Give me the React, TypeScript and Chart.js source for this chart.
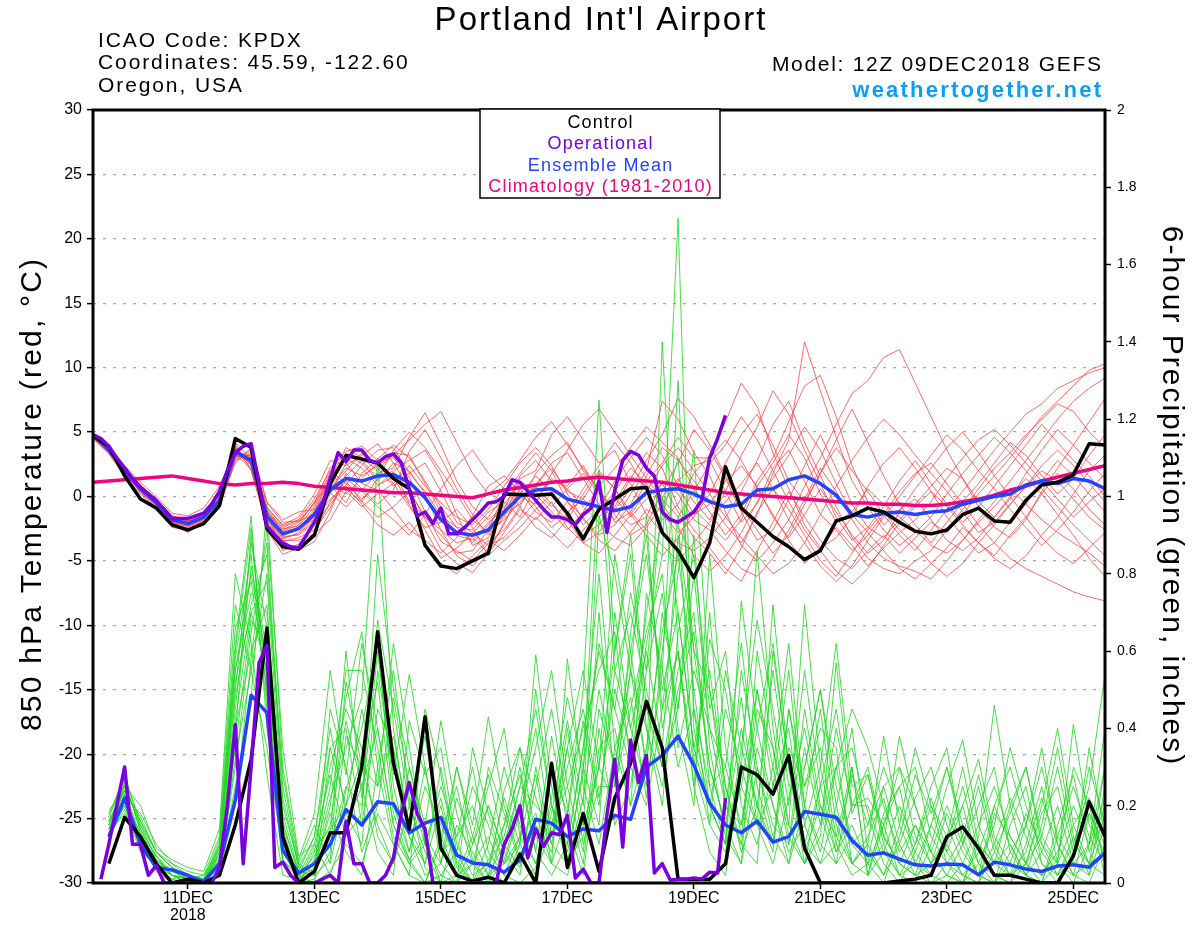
import React, { useEffect, useRef } from 'react';
import { Chart, registerables } from 'chart.js';

Chart.register(...registerables);

// ---- time axis (hours after 12Z 09DEC2018) ----
const HOURS_6H = Array.from({ length: 65 }, (_, i) => i * 6);
const HOURS_3H = Array.from({ length: 81 }, (_, j) => j * 3);
const PRECIP_HOURS = HOURS_6H.slice(1);
const DATE_TICK_HOURS = [36, 84, 132, 180, 228, 276, 324, 372];
const DATE_TICK_LABELS: (string | string[])[] = [['11DEC', '2018'], '13DEC', '15DEC', '17DEC', '19DEC', '21DEC', '23DEC', '25DEC'];

// ---- 850 hPa temperature (°C), 6-hourly ----
const controlTemp = [4.7, 3.9, 1.6, -0.2, -0.9, -2.2, -2.6, -2.1, -0.7, 4.5, 3.8, -2.5, -3.9, -4.1, -3.0, 1.0, 3.2, 2.9, 2.6, 1.4, 0.6, -3.8, -5.4, -5.6, -5.0, -4.4, 0.2, 0.15, 0.1, 0.2, -1.3, -3.3, -1.0, -0.2, 0.6, 0.7, -2.8, -4.2, -6.3, -3.6, 2.3, -0.9, -2.0, -3.1, -3.9, -4.9, -4.2, -1.9, -1.5, -0.9, -1.2, -2.0, -2.7, -2.9, -2.6, -1.4, -0.9, -1.9, -2.0, -0.3, 0.9, 1.1, 1.7, 4.1, 4.0];
const meanTemp = [4.8, 3.6, 2.0, 0.6, -0.5, -1.8, -2.1, -1.6, -0.3, 3.5, 2.8, -1.5, -2.9, -2.5, -1.4, 0.5, 1.4, 1.2, 1.6, 1.7, 1.1, -0.1, -1.8, -2.8, -3.0, -2.6, -1.2, 0.0, 0.5, 0.6, -0.2, -0.5, -0.8, -1.1, -0.8, 0.3, 0.5, 0.6, 0.2, -0.4, -0.8, -0.6, 0.5, 0.6, 1.3, 1.6, 1.0, 0.1, -1.4, -1.6, -1.3, -1.2, -1.4, -1.2, -1.1, -0.6, -0.3, 0.0, 0.2, 0.9, 1.2, 1.0, 1.4, 1.2, 0.6];
const climTemp = [1.1, 1.2, 1.3, 1.4, 1.5, 1.6, 1.4, 1.2, 1.0, 0.9, 1.0, 1.0, 1.1, 1.0, 0.8, 0.7, 0.6, 0.5, 0.4, 0.3, 0.3, 0.2, 0.1, 0.0, -0.1, 0.2, 0.5, 0.7, 0.9, 1.1, 1.2, 1.4, 1.5, 1.4, 1.3, 1.2, 1.1, 0.9, 0.7, 0.5, 0.3, 0.2, 0.1, 0.0, -0.1, -0.2, -0.3, -0.4, -0.5, -0.5, -0.6, -0.6, -0.7, -0.7, -0.6, -0.4, -0.2, 0.1, 0.5, 0.8, 1.2, 1.5, 1.8, 2.1, 2.4];
// operational run, 3-hourly to 240 h
const opTemp = [4.8, 4.5, 3.9, 3.0, 2.2, 1.4, 0.7, 0.2, -0.3, -1.0, -1.7, -1.7, -1.7, -1.5, -1.3, -0.6, 0.4, 2.0, 3.4, 3.9, 4.1, 1.0, -2.3, -3.0, -3.6, -3.9, -4.0, -3.0, -2.0, -0.7, 1.4, 3.4, 2.7, 3.6, 3.6, 2.8, 2.6, 3.1, 3.3, 2.6, 0.6, -1.5, -1.2, -2.1, -0.9, -2.9, -2.9, -2.4, -1.8, -1.2, -0.5, -0.4, 0.0, 1.3, 1.1, 0.4, -0.3, -1.0, -1.6, -1.6, -1.8, -2.2, -1.4, -0.9, 1.2, -2.8, 0.5, 2.8, 3.5, 3.2, 2.2, 1.6, -1.2, -1.8, -2.0, -1.6, -1.2, -0.3, 3.0, 4.5, 6.3];

const tempMembers = [
  [4.6, 3.4, 1.8, 0.3, -0.8, -2.2, -2.5, -1.9, -0.6, 3.2, 3.0, -1.2, -2.6, -2.0, -0.5, 2.2, 3.5, 3.9, 2.8, 3.0, 1.5, -1.2, -3.5, -4.2, -5.0, -3.6, -2.6, -0.8, 1.8, 3.2, 4.2, 2.0, 0.6, -1.4, -3.0, -2.2, 0.4, 2.6, 5.2, 3.6, 1.4, -1.2, -3.4, -2.6, -0.2, 2.4, 4.8, 2.2, -0.6, -2.4, -3.2, -1.8, -0.6, 0.8, 2.2, 1.4, -0.4, -1.6, -0.2, 1.8, 3.6, 5.2, 4.0, 2.6, 1.4],
  [4.9, 3.8, 2.3, 0.9, -0.2, -1.5, -1.8, -1.2, 0.2, 3.9, 2.4, -2.0, -3.4, -3.4, -2.9, -1.8, 0.4, -0.8, 0.2, 1.0, 2.4, 0.8, -0.5, -1.6, -2.2, -1.0, 0.8, 2.6, 3.8, 2.4, 0.2, -1.8, -3.0, -2.2, -0.6, 1.6, 3.8, 2.8, 1.2, -0.4, -2.2, -3.6, -1.4, 1.8, 4.4, 12.0, 8.2, 4.6, 1.2, -0.8, -2.6, -3.8, -2.8, -1.6, 0.2, 1.8, 3.2, 4.6, 3.4, 2.0, 0.6, -0.8, -2.2, -3.4, -4.6],
  [4.7, 3.5, 1.9, 0.5, -0.6, -2.0, -2.8, -2.0, -0.8, 2.8, 3.3, -0.9, -2.2, -1.6, 0.2, 2.8, 2.4, 3.2, 4.1, 2.6, 0.6, -1.8, -4.1, -5.2, -5.9, -4.4, -2.8, -1.0, -1.8, -0.4, -2.4, -3.6, -2.8, -0.8, 1.4, 3.4, 2.2, -0.8, -2.6, -4.0, -5.6, -6.6, -4.2, -2.0, 0.4, -1.6, -3.4, -4.8, -5.6, -4.2, -3.0, -4.4, -3.2, -2.0, -2.8, -1.4, 0.2, 1.6, 3.0, 4.6, 6.2, 7.4, 8.6, 9.8, 10.3],
  [4.8, 3.7, 2.1, 0.8, -0.3, -1.6, -1.9, -1.3, 0.4, 4.1, 2.0, -2.3, -3.8, -4.2, -3.5, -1.2, 1.8, 0.6, -0.6, 0.5, 3.5, 5.2, 3.0, 0.6, -1.4, -3.0, -1.6, 1.4, 2.0, 4.8, 6.2, 4.4, 2.6, 3.6, 1.0, -1.4, -2.8, -3.6, -4.2, -3.2, -1.6, 0.4, 2.8, 5.6, 7.4, 4.2, 1.6, -0.8, -3.2, -4.8, -5.6, -6.0, -5.0, -4.2, -2.6, -1.0, 0.6, 2.2, 3.4, 4.8, 6.0, 7.2, 6.6, 5.0, 3.8],
  [4.5, 3.3, 1.6, 0.2, -1.0, -2.4, -2.6, -2.2, -0.9, 3.0, 3.6, -0.5, -2.0, -1.9, -1.4, 0.9, -0.5, 1.8, 2.9, 4.0, 3.0, 1.2, -0.8, -2.4, -3.6, -2.2, -0.6, 1.0, 0.2, -1.2, -2.6, -1.2, 0.8, 2.2, 3.8, 5.4, 4.2, 3.0, 0.6, -1.2, -3.0, -1.4, 1.2, 3.0, 5.8, 8.6, 9.4, 6.2, 2.4, -0.4, -2.2, -1.0, -0.2, -1.8, -3.4, -4.2, -3.2, -1.6, 0.0, 1.4, 0.2, -1.4, -3.0, -4.8, -6.2],
  [4.9, 3.9, 2.4, 1.1, 0.0, -1.3, -1.5, -0.9, 0.8, 3.6, 2.2, -1.8, -3.1, -3.0, -2.0, 0.2, 2.6, 1.0, 0.5, -1.0, -2.6, -3.4, -4.4, -3.2, -1.5, 0.8, 1.6, 0.4, -1.2, -2.0, -0.4, -1.6, -3.4, -4.2, -2.8, -1.0, -1.8, -0.6, 1.8, 3.2, 5.8, 8.8, 7.0, 3.4, 0.6, -2.2, -4.0, -3.2, -1.6, 0.8, 2.6, 3.8, 2.2, 0.4, -1.6, -3.0, -4.4, -3.6, -2.0, -0.6, 1.2, 2.8, 1.6, 0.2, -1.2],
  [4.6, 3.5, 1.9, 0.4, -0.7, -2.1, -2.3, -1.8, -0.2, 3.4, 3.0, -1.4, -4.2, -3.7, -2.2, -0.6, 0.9, 2.4, 3.6, 3.8, 1.8, 0.4, -1.5, -2.4, -2.6, -1.2, -0.4, -1.6, 0.8, 2.6, 3.4, 1.4, -0.6, -1.8, 0.2, 2.0, 7.4, 6.0, 3.4, 1.6, -1.2, -3.8, -5.0, -3.6, -1.8, 0.8, 3.0, 5.6, 8.0, 9.0, 10.8, 11.4, 8.8, 6.2, 3.6, 1.4, -0.8, -2.4, -3.2, -1.8, 0.4, 2.2, 4.0, 5.8, 7.6],
  [4.7, 3.6, 2.2, 0.7, -0.4, -1.9, -2.0, -1.4, 0.0, 3.8, 2.6, -1.0, -2.5, -2.3, -0.8, 1.6, 3.0, 2.2, 0.9, 1.5, -0.6, -2.6, -4.8, -4.0, -2.8, -3.8, -3.2, -1.8, -0.4, 1.4, 0.6, -0.8, -2.0, -3.2, -3.8, -2.4, -0.6, 1.2, 2.4, 2.8, 0.4, -2.0, -0.6, 2.2, 3.6, 1.2, -1.4, -2.6, -4.2, -3.0, -1.4, 0.4, 1.8, 2.6, 1.0, -0.6, -2.2, -3.6, -4.8, -5.6, -6.2, -6.8, -7.4, -7.8, -8.1],
  [4.8, 3.5, 1.8, 0.5, -0.5, -1.7, -2.2, -1.7, -0.5, 2.6, 3.8, -0.4, -1.8, -1.2, -1.0, 0.3, -0.8, 0.5, 1.8, 2.2, 4.6, 6.5, 4.0, 1.2, -0.8, -1.8, -0.8, 0.2, 1.6, 0.4, -1.2, -0.2, 1.8, 0.6, -1.6, -0.2, 1.0, -1.2, -3.2, -4.4, -6.0, -4.0, -1.2, 0.6, -1.0, -3.0, -5.0, -6.2, -4.4, -2.6, -1.2, -2.6, -3.8, -5.2, -6.2, -5.2, -3.6, -2.2, -0.6, 0.8, 2.0, 1.2, -0.2, -1.6, -2.6],
  [4.6, 3.6, 2.0, 0.6, -0.6, -1.8, -2.1, -1.5, -0.1, 3.7, 2.5, -2.6, -4.5, -4.0, -2.8, -0.4, 1.2, -0.4, -1.6, -0.8, 0.4, -1.6, -2.6, -4.6, -5.4, -4.0, -2.2, 0.6, -0.8, -2.4, -1.4, 0.6, 2.4, 4.2, 2.6, 0.4, -1.4, -2.8, -1.6, 0.2, 2.6, 4.8, 6.4, 4.0, 1.2, -0.4, 1.8, 4.4, 6.8, 4.2, 1.6, -0.6, -2.2, -3.6, -2.0, -0.4, 1.0, 2.6, 4.2, 3.2, 1.6, 0.2, 1.4, 3.2, 4.8],
  [4.9, 3.7, 2.2, 0.8, -0.2, -1.5, -1.9, -1.6, 0.3, 4.2, 2.9, -1.6, -3.0, -2.6, -1.2, 1.3, 3.8, 3.0, 2.0, 3.4, 3.2, 1.0, -1.2, -3.0, -3.4, -2.0, -1.0, 1.6, 2.8, 1.2, 0.8, 2.4, 0.4, -2.0, -1.2, 1.2, 2.6, 4.6, 3.0, 3.0, 4.4, 2.8, 0.6, -1.4, -3.4, -5.2, -4.0, -2.4, -3.8, -5.4, -4.0, -2.8, -1.8, -0.4, 1.4, 3.0, 4.4, 5.2, 4.0, 2.6, 1.2, -0.2, -1.6, -0.4, 0.6],
  [4.5, 3.4, 1.7, 0.4, -0.9, -2.3, -2.4, -1.9, -0.7, 2.9, 3.4, -1.1, -2.7, -2.2, -0.4, 1.0, 0.2, 1.4, 2.6, 1.0, -0.8, -2.4, -2.0, -1.0, -2.4, -4.6, -3.4, -2.4, -1.0, 0.2, -1.6, -3.0, -2.2, -0.2, -1.4, -3.0, -4.6, -3.2, -1.0, -2.2, -3.4, -1.8, 0.8, 2.6, 4.8, 3.0, 0.2, -2.0, -1.2, 0.6, -0.6, -1.6, -2.6, -3.8, -4.4, -3.4, -2.0, -0.8, 0.6, -0.6, -1.8, -2.8, -3.6, -4.4, -5.4],
  [4.8, 3.6, 2.1, 0.6, -0.4, -1.7, -2.0, -1.3, 0.1, 3.3, 2.1, -2.1, -3.5, -3.2, -2.6, -0.9, 1.6, 2.8, 1.4, 2.0, 2.8, 3.6, 1.6, -1.4, -3.8, -3.2, -1.4, -0.6, 1.0, 2.2, 0.4, -0.2, -1.6, -0.4, 1.6, 0.8, 0.0, 1.4, -0.4, -1.8, 0.4, 3.2, 5.4, 8.2, 6.4, 3.6, 1.0, -1.6, -3.4, -2.4, -0.8, 1.2, 2.8, 1.0, -0.6, -2.0, -0.8, 0.8, 2.4, 4.0, 5.6, 4.2, 2.8, 1.6, 0.0],
  [4.7, 3.5, 1.9, 0.5, -0.5, -2.0, -2.3, -1.8, -0.4, 3.5, 3.1, -0.8, -2.3, -1.8, -0.2, 2.0, 1.0, -0.2, 0.8, 1.9, -0.4, -1.6, -3.0, -4.4, -4.2, -2.6, 0.2, 1.2, 0.4, -0.8, 0.6, 1.8, 0.2, -1.0, -2.2, -1.6, 1.2, 0.2, -1.8, -2.6, -4.2, -5.6, -6.2, -4.8, -2.6, -0.2, 2.2, 0.4, -1.8, -3.6, -4.8, -5.4, -5.8, -6.4, -5.0, -3.4, -1.8, -0.4, 1.2, 2.8, 4.4, 6.0, 7.4, 8.4, 9.2],
  [4.7, 3.6, 2.0, 0.7, -0.4, -1.8, -2.2, -1.7, -0.3, 3.6, 2.7, -1.7, -3.3, -2.8, -1.6, 0.8, 2.2, 1.6, 2.4, 3.2, 4.4, 5.6, 6.6, 4.2, 1.8, 0.2, 1.2, 2.8, 4.6, 5.8, 4.0, 2.2, 0.4, -1.0, 0.6, 2.8, 4.8, 7.6, 6.2, 4.0, 1.6, -0.8, -2.6, -4.4, -3.0, -0.6, 1.8, 3.8, 2.0, 0.4, -1.4, -3.0, -4.2, -2.6, -1.0, 0.4, 2.0, 3.6, 5.0, 6.4, 7.2, 8.4, 9.0, 9.6, 10.0],
  [4.8, 3.7, 2.1, 0.7, -0.5, -1.9, -2.2, -1.6, -0.2, 3.4, 2.9, -1.3, -2.8, -2.4, -1.8, -0.2, 0.8, -0.6, -2.2, -3.0, -2.0, -3.6, -5.2, -6.0, -4.6, -3.4, -4.2, -3.0, -1.6, -2.8, -4.0, -2.6, -1.2, 0.4, 2.2, 1.0, -0.6, -2.4, -4.6, -5.8, -4.6, -2.8, -0.4, 1.4, 3.2, 5.4, 3.6, 1.0, -1.4, -2.8, -4.2, -5.6, -6.4, -5.2, -4.0, -2.4, -3.6, -4.6, -3.0, -1.6, 0.2, 1.8, 0.6, -1.0, -2.2],
  [4.6, 3.5, 1.9, 0.5, -0.6, -1.9, -2.1, -1.6, -0.4, 3.3, 2.6, -1.9, -3.2, -2.9, -1.8, 0.6, 2.0, 3.4, 2.2, 0.8, 1.8, 2.6, 0.4, -2.0, -2.8, -1.6, 0.0, 1.8, 3.4, 2.0, -0.4, -2.2, -1.0, 1.2, 3.0, 4.6, 3.2, 0.8, -1.4, -0.6, 1.2, 2.4, 0.8, -1.6, -3.2, -1.4, 0.6, -1.2, -3.0, -4.4, -3.4, -1.2, 0.6, 2.2, 3.8, 5.0, 3.4, 1.6, 0.0, -1.6, -3.2, -4.4, -5.2, -4.0, -2.8],
  [4.9, 3.8, 2.2, 0.8, -0.3, -1.6, -1.9, -1.4, 0.2, 3.8, 2.4, -1.7, -3.0, -2.6, -1.0, 1.4, 3.2, 2.6, 1.2, 2.6, 2.0, 0.2, -2.6, -3.6, -3.2, -4.4, -2.0, 0.0, -0.6, 1.8, 3.6, 5.6, 6.8, 5.0, 3.2, 1.4, -0.2, -1.6, 0.4, 2.6, 4.0, 6.2, 4.4, 2.0, -0.4, -2.6, -4.2, -5.8, -6.8, -5.6, -3.8, -2.0, -0.8, 0.4, -0.8, -2.2, -3.6, -4.8, -5.6, -4.6, -3.0, -1.6, 0.2, 2.0, 3.2],
  [4.7, 3.6, 2.0, 0.6, -0.5, -1.8, -2.1, -1.6, -0.3, 3.1, 3.2, -1.2, -2.4, -1.9, -0.6, 1.8, 0.6, -0.4, 1.4, 3.6, 5.0, 3.8, 2.0, 0.2, -1.8, -2.8, -1.8, -0.4, 0.8, -0.6, -1.8, -3.6, -4.4, -3.0, -1.4, 0.4, 2.4, 3.8, 2.0, 0.2, -1.6, -3.2, -4.6, -6.0, -5.2, -3.6, -1.4, 0.8, 2.8, 4.6, 6.0, 4.8, 3.2, 1.8, 0.4, -1.2, -2.8, -2.0, -0.6, 0.8, 2.4, 3.6, 2.4, 1.0, -0.4],
  [4.8, 3.6, 2.0, 0.5, -0.6, -2.0, -2.3, -1.7, -0.3, 3.6, 2.7, -1.4, -2.9, -2.4, -1.2, 0.8, 1.4, 0.4, -0.8, -1.8, -3.0, -1.4, 0.6, 2.4, 3.6, 1.8, 0.6, -0.8, -2.4, -3.2, -1.8, 0.2, 2.0, 0.6, -1.2, -2.6, -3.8, -5.0, -3.6, -2.0, -0.4, 1.0, 2.6, 0.6, -1.8, -3.6, -5.4, -6.6, -5.4, -3.4, -1.6, 0.0, 1.6, 3.2, 4.8, 3.6, 2.0, 0.6, -1.0, -2.4, -3.8, -2.6, -1.2, 0.4, 1.8],
];

// ---- 6-hour precipitation (inches), accumulations ending at 6h ... 384h ----
const controlPrecip = [0.05, 0.17, 0.12, 0.05, 0.0, 0.01, 0.0, 0.02, 0.15, 0.32, 0.66, 0.12, 0.0, 0.03, 0.13, 0.13, 0.30, 0.65, 0.31, 0.14, 0.43, 0.09, 0.02, 0.005, 0.015, 0.0, 0.075, 0.0, 0.31, 0.04, 0.18, 0.03, 0.22, 0.31, 0.47, 0.35, 0.01, 0.01, 0.01, 0.05, 0.30, 0.28, 0.23, 0.33, 0.09, 0.0, 0.0, 0.0, 0.0, 0.0, 0.005, 0.01, 0.02, 0.12, 0.145, 0.09, 0.02, 0.02, 0.01, 0.0, 0.0, 0.07, 0.21, 0.12];
const meanPrecip = [0.12, 0.22, 0.10, 0.04, 0.034, 0.02, 0.003, 0.05, 0.215, 0.486, 0.44, 0.085, 0.026, 0.05, 0.10, 0.19, 0.15, 0.21, 0.205, 0.13, 0.155, 0.17, 0.072, 0.052, 0.047, 0.028, 0.06, 0.165, 0.155, 0.12, 0.14, 0.135, 0.175, 0.165, 0.30, 0.33, 0.38, 0.305, 0.207, 0.15, 0.13, 0.16, 0.106, 0.12, 0.185, 0.178, 0.17, 0.11, 0.072, 0.078, 0.062, 0.047, 0.044, 0.049, 0.047, 0.021, 0.054, 0.047, 0.036, 0.03, 0.044, 0.047, 0.041, 0.078];
// operational, 3-hourly (first value at 0h is empty)
const opPrecip = [null, 0.01, 0.1, 0.2, 0.3, 0.1, 0.1, 0.02, 0.045, 0.0, 0.0, 0.0, 0.0, 0.0, 0.0, 0.0, 0.04, 0.2, 0.41, 0.05, 0.3, 0.57, 0.615, 0.04, 0.054, 0.02, 0.0, 0.0, 0.0, 0.01, 0.02, 0.0, 0.16, 0.05, 0.05, 0.0, 0.0, 0.02, 0.065, 0.18, 0.26, 0.18, 0.14, 0.0, 0.0, 0.0, 0.0, 0.0, 0.0, 0.0, 0.0, 0.0, 0.1, 0.14, 0.2, 0.065, 0.14, 0.095, 0.13, 0.125, 0.175, 0.013, 0.036, 0.0, 0.0, 0.175, 0.32, 0.093, 0.37, 0.26, 0.33, 0.026, 0.05, 0.008, 0.01, 0.01, 0.013, 0.01, 0.028, 0.026, 0.22];

const precipMembers = [
  [0.14, 0.24, 0.12, 0.06, 0.02, 0.01, 0.00, 0.06, 0.45, 0.82, 0.60, 0.12, 0.02, 0.05, 0.22, 0.35, 0.48, 1.10, 0.40, 0.12, 0.05, 0.20, 0.02, 0.00, 0.06, 0.15, 0.28, 0.08, 0.02, 0.10, 0.35, 0.60, 0.45, 0.30, 0.62, 0.85, 1.72, 0.40, 0.20, 0.10, 0.55, 0.30, 0.12, 0.05, 0.20, 0.45, 0.15, 0.05, 0.10, 0.38, 0.15, 0.05, 0.02, 0.10, 0.25, 0.08, 0.02, 0.00, 0.05, 0.12, 0.30, 0.10, 0.05, 0.02],
  [0.18, 0.27, 0.16, 0.08, 0.04, 0.02, 0.01, 0.10, 0.62, 0.95, 0.40, 0.05, 0.00, 0.01, 0.08, 0.52, 0.30, 0.25, 0.62, 0.35, 0.10, 0.02, 0.00, 0.05, 0.12, 0.02, 0.00, 0.04, 0.18, 0.42, 0.20, 0.95, 0.80, 0.55, 0.30, 1.40, 0.60, 0.25, 0.08, 0.02, 0.30, 0.86, 0.40, 0.15, 0.72, 0.30, 0.10, 0.02, 0.05, 0.10, 0.38, 0.20, 0.08, 0.02, 0.00, 0.12, 0.46, 0.20, 0.05, 0.02, 0.08, 0.20, 0.10, 0.30],
  [0.12, 0.20, 0.09, 0.04, 0.01, 0.00, 0.00, 0.03, 0.30, 0.65, 0.88, 0.25, 0.04, 0.12, 0.40, 0.18, 0.10, 0.55, 0.28, 0.54, 0.30, 0.08, 0.12, 0.20, 0.05, 0.00, 0.10, 0.59, 0.25, 0.06, 0.12, 0.30, 0.20, 0.65, 0.90, 0.45, 0.80, 1.12, 0.50, 0.20, 0.10, 0.05, 0.60, 0.30, 0.05, 0.12, 0.57, 0.20, 0.20, 0.08, 0.02, 0.00, 0.10, 0.25, 0.37, 0.15, 0.05, 0.10, 0.02, 0.00, 0.05, 0.41, 0.15, 0.08],
  [0.16, 0.22, 0.18, 0.10, 0.05, 0.03, 0.02, 0.12, 0.72, 0.55, 0.35, 0.08, 0.01, 0.00, 0.03, 0.10, 0.05, 0.18, 0.10, 0.02, 0.45, 0.28, 0.05, 0.00, 0.02, 0.24, 0.35, 0.12, 0.05, 0.58, 0.25, 0.10, 0.35, 0.48, 0.22, 0.60, 0.95, 0.30, 0.63, 0.50, 0.25, 0.15, 0.05, 0.22, 0.40, 0.18, 0.05, 0.30, 0.02, 0.15, 0.25, 0.30, 0.12, 0.05, 0.02, 0.08, 0.20, 0.30, 0.15, 0.05, 0.02, 0.10, 0.25, 0.54],
  [0.10, 0.26, 0.14, 0.05, 0.03, 0.01, 0.01, 0.04, 0.25, 0.48, 0.98, 0.30, 0.06, 0.18, 0.55, 0.28, 0.62, 0.40, 0.15, 0.06, 0.00, 0.10, 0.30, 0.15, 0.43, 0.20, 0.06, 0.02, 0.30, 0.18, 0.50, 1.25, 0.60, 0.90, 0.45, 0.30, 0.55, 0.70, 0.25, 0.10, 0.73, 0.40, 0.20, 0.08, 0.15, 0.30, 0.62, 0.25, 0.28, 0.12, 0.05, 0.02, 0.00, 0.05, 0.12, 0.28, 0.10, 0.02, 0.08, 0.22, 0.10, 0.02, 0.05, 0.18],
  [0.19, 0.23, 0.10, 0.07, 0.02, 0.00, 0.00, 0.08, 0.55, 0.75, 0.70, 0.15, 0.03, 0.02, 0.12, 0.60, 0.22, 0.68, 0.45, 0.20, 0.08, 0.00, 0.02, 0.12, 0.28, 0.10, 0.04, 0.25, 0.45, 0.20, 0.05, 0.40, 0.15, 0.25, 0.55, 0.75, 0.40, 0.20, 0.85, 0.35, 0.12, 0.50, 0.25, 0.40, 0.10, 0.05, 0.20, 0.40, 0.08, 0.02, 0.10, 0.22, 0.30, 0.15, 0.05, 0.02, 0.00, 0.05, 0.18, 0.10, 0.02, 0.06, 0.35, 0.12],
  [0.13, 0.18, 0.11, 0.03, 0.00, 0.00, 0.01, 0.05, 0.38, 0.90, 0.52, 0.10, 0.00, 0.08, 0.30, 0.45, 0.35, 0.12, 0.05, 0.30, 0.15, 0.42, 0.18, 0.05, 0.00, 0.06, 0.20, 0.40, 0.12, 0.30, 0.45, 0.22, 0.50, 0.35, 0.70, 0.95, 1.10, 0.60, 0.30, 0.15, 0.40, 0.20, 0.55, 0.25, 0.30, 0.50, 0.25, 0.10, 0.15, 0.30, 0.18, 0.08, 0.02, 0.00, 0.05, 0.15, 0.25, 0.12, 0.05, 0.00, 0.15, 0.28, 0.08, 0.20],
  [0.15, 0.25, 0.20, 0.09, 0.06, 0.04, 0.03, 0.14, 0.80, 0.62, 0.28, 0.02, 0.01, 0.04, 0.18, 0.08, 0.02, 0.30, 0.55, 0.22, 0.04, 0.00, 0.00, 0.35, 0.18, 0.05, 0.12, 0.18, 0.05, 0.02, 0.15, 0.70, 0.25, 0.55, 0.40, 0.20, 0.65, 0.85, 0.45, 0.60, 0.20, 0.10, 0.30, 0.62, 0.20, 0.08, 0.30, 0.45, 0.35, 0.20, 0.08, 0.15, 0.05, 0.10, 0.02, 0.00, 0.08, 0.18, 0.30, 0.12, 0.05, 0.02, 0.00, 0.10],
  [0.11, 0.21, 0.13, 0.04, 0.01, 0.02, 0.00, 0.07, 0.42, 0.70, 0.78, 0.20, 0.05, 0.15, 0.05, 0.24, 0.40, 0.62, 0.20, 0.08, 0.25, 0.15, 0.06, 0.00, 0.10, 0.30, 0.15, 0.05, 0.22, 0.48, 0.30, 0.15, 0.70, 0.40, 0.25, 0.55, 0.30, 0.45, 0.15, 0.08, 0.35, 0.68, 0.45, 0.20, 0.55, 0.25, 0.08, 0.15, 0.05, 0.00, 0.12, 0.28, 0.18, 0.30, 0.15, 0.05, 0.02, 0.00, 0.10, 0.25, 0.05, 0.15, 0.22, 0.05],
  [0.17, 0.28, 0.15, 0.06, 0.03, 0.01, 0.02, 0.09, 0.58, 0.85, 0.45, 0.06, 0.02, 0.00, 0.35, 0.40, 0.15, 0.45, 0.35, 0.12, 0.02, 0.05, 0.22, 0.10, 0.20, 0.08, 0.02, 0.30, 0.10, 0.05, 0.22, 0.50, 0.30, 0.60, 0.85, 0.50, 0.70, 0.35, 0.55, 0.25, 0.08, 0.20, 0.10, 0.35, 0.25, 0.40, 0.35, 0.05, 0.12, 0.22, 0.05, 0.02, 0.15, 0.08, 0.20, 0.32, 0.12, 0.05, 0.02, 0.08, 0.20, 0.05, 0.10, 0.40],
  [0.12, 0.19, 0.08, 0.05, 0.02, 0.01, 0.00, 0.03, 0.20, 0.58, 0.92, 0.35, 0.07, 0.10, 0.02, 0.15, 0.25, 0.08, 0.02, 0.42, 0.28, 0.35, 0.10, 0.02, 0.05, 0.12, 0.30, 0.08, 0.38, 0.15, 0.02, 0.35, 0.40, 0.20, 0.35, 0.65, 0.85, 0.50, 0.20, 0.45, 0.30, 0.15, 0.72, 0.30, 0.08, 0.20, 0.12, 0.30, 0.02, 0.08, 0.20, 0.10, 0.25, 0.35, 0.10, 0.02, 0.00, 0.15, 0.25, 0.05, 0.00, 0.08, 0.18, 0.02],
  [0.16, 0.24, 0.17, 0.08, 0.04, 0.02, 0.01, 0.11, 0.66, 0.78, 0.50, 0.09, 0.00, 0.06, 0.25, 0.55, 0.55, 0.35, 0.12, 0.05, 0.00, 0.02, 0.08, 0.25, 0.15, 0.05, 0.10, 0.50, 0.20, 0.08, 0.28, 1.07, 0.55, 0.70, 0.50, 0.30, 0.45, 0.90, 0.35, 0.12, 0.05, 0.30, 0.15, 0.10, 0.35, 0.15, 0.40, 0.20, 0.22, 0.15, 0.02, 0.05, 0.00, 0.02, 0.10, 0.20, 0.30, 0.08, 0.02, 0.15, 0.35, 0.12, 0.02, 0.25],
  [0.14, 0.22, 0.10, 0.06, 0.02, 0.00, 0.01, 0.06, 0.35, 0.68, 0.62, 0.18, 0.03, 0.02, 0.45, 0.30, 0.08, 0.20, 0.48, 0.25, 0.10, 0.22, 0.04, 0.00, 0.30, 0.18, 0.05, 0.15, 0.08, 0.35, 0.10, 0.25, 0.25, 0.45, 0.65, 0.80, 0.35, 0.55, 0.40, 0.30, 0.62, 0.25, 0.10, 0.45, 0.20, 0.10, 0.05, 0.12, 0.06, 0.25, 0.30, 0.12, 0.05, 0.18, 0.08, 0.02, 0.10, 0.22, 0.12, 0.02, 0.06, 0.30, 0.20, 0.05],
  [0.15, 0.26, 0.14, 0.07, 0.03, 0.02, 0.00, 0.08, 0.50, 0.88, 0.66, 0.14, 0.01, 0.09, 0.14, 0.20, 0.32, 0.52, 0.18, 0.06, 0.12, 0.00, 0.15, 0.08, 0.02, 0.10, 0.25, 0.20, 0.15, 0.25, 0.40, 0.55, 0.65, 0.30, 0.20, 0.45, 0.60, 0.25, 0.70, 0.20, 0.15, 0.45, 0.35, 0.15, 0.05, 0.25, 0.30, 0.35, 0.18, 0.05, 0.00, 0.08, 0.20, 0.12, 0.30, 0.10, 0.05, 0.02, 0.15, 0.30, 0.12, 0.05, 0.02, 0.15],
  [0.13, 0.23, 0.11, 0.05, 0.02, 0.00, 0.01, 0.07, 0.48, 0.72, 0.85, 0.22, 0.04, 0.03, 0.20, 0.48, 0.65, 0.30, 0.10, 0.02, 0.00, 0.12, 0.25, 0.06, 0.00, 0.15, 0.35, 0.22, 0.10, 0.40, 0.15, 0.30, 0.60, 0.85, 0.40, 0.25, 0.50, 0.65, 0.30, 0.15, 0.05, 0.60, 0.35, 0.12, 0.05, 0.15, 0.30, 0.10, 0.05, 0.15, 0.30, 0.20, 0.08, 0.02, 0.00, 0.05, 0.15, 0.35, 0.20, 0.08, 0.02, 0.12, 0.05, 0.30],
  [0.16, 0.25, 0.15, 0.08, 0.04, 0.01, 0.00, 0.09, 0.60, 0.92, 0.48, 0.06, 0.01, 0.05, 0.10, 0.25, 0.20, 0.60, 0.25, 0.08, 0.30, 0.05, 0.00, 0.10, 0.25, 0.40, 0.12, 0.05, 0.20, 0.10, 0.35, 0.80, 0.35, 0.20, 0.75, 0.55, 1.30, 0.45, 0.25, 0.30, 0.15, 0.40, 0.62, 0.30, 0.10, 0.25, 0.45, 0.18, 0.28, 0.10, 0.02, 0.10, 0.22, 0.08, 0.02, 0.00, 0.18, 0.12, 0.05, 0.20, 0.40, 0.15, 0.05, 0.08],
  [0.12, 0.21, 0.12, 0.06, 0.03, 0.02, 0.01, 0.05, 0.40, 0.60, 0.72, 0.16, 0.02, 0.10, 0.28, 0.12, 0.18, 0.85, 0.50, 0.30, 0.12, 0.05, 0.30, 0.12, 0.02, 0.05, 0.18, 0.35, 0.55, 0.25, 0.08, 0.45, 0.30, 0.55, 0.95, 0.40, 0.60, 0.30, 0.15, 0.55, 0.35, 0.20, 0.08, 0.45, 0.25, 0.35, 0.12, 0.05, 0.10, 0.02, 0.15, 0.35, 0.20, 0.05, 0.00, 0.10, 0.05, 0.20, 0.30, 0.10, 0.05, 0.00, 0.10, 0.22],
  [0.17, 0.27, 0.13, 0.07, 0.02, 0.01, 0.00, 0.10, 0.55, 0.80, 0.58, 0.10, 0.03, 0.12, 0.35, 0.20, 0.45, 0.25, 0.38, 0.15, 0.05, 0.30, 0.08, 0.00, 0.04, 0.22, 0.10, 0.02, 0.15, 0.35, 0.55, 0.30, 0.85, 0.60, 0.30, 0.70, 0.45, 0.80, 0.40, 0.20, 0.48, 0.15, 0.25, 0.55, 0.15, 0.05, 0.10, 0.28, 0.15, 0.25, 0.10, 0.02, 0.05, 0.12, 0.20, 0.05, 0.00, 0.08, 0.15, 0.35, 0.10, 0.02, 0.18, 0.10],
  [0.14, 0.20, 0.09, 0.04, 0.02, 0.01, 0.00, 0.04, 0.32, 0.55, 0.80, 0.28, 0.05, 0.02, 0.06, 0.38, 0.30, 0.15, 0.05, 0.20, 0.38, 0.12, 0.02, 0.05, 0.20, 0.08, 0.25, 0.45, 0.20, 0.05, 0.30, 0.62, 0.45, 0.75, 0.55, 1.00, 0.70, 0.35, 0.20, 0.10, 0.25, 0.50, 0.30, 0.10, 0.45, 0.20, 0.08, 0.20, 0.30, 0.12, 0.05, 0.15, 0.08, 0.20, 0.10, 0.25, 0.08, 0.02, 0.05, 0.18, 0.25, 0.08, 0.30, 0.15],
  [0.15, 0.24, 0.16, 0.08, 0.05, 0.02, 0.01, 0.08, 0.52, 0.70, 0.55, 0.12, 0.02, 0.07, 0.15, 0.42, 0.25, 0.40, 0.15, 0.05, 0.10, 0.25, 0.12, 0.30, 0.08, 0.02, 0.12, 0.28, 0.05, 0.18, 0.42, 0.20, 0.55, 0.40, 0.60, 0.35, 0.90, 0.60, 0.50, 0.25, 0.10, 0.35, 0.20, 0.05, 0.30, 0.50, 0.20, 0.05, 0.02, 0.18, 0.25, 0.05, 0.15, 0.30, 0.12, 0.02, 0.20, 0.10, 0.02, 0.00, 0.12, 0.25, 0.12, 0.05],
];

// ---- styling ----
const FONT = '"Liberation Sans", Arial, Helvetica, sans-serif';
const COLOR_CONTROL = '#000000';
const COLOR_OP = '#7b00e0';
const COLOR_MEAN = '#2244ff';
const COLOR_CLIM = '#ee0580';
const COLOR_TEMP_MEMBER = 'rgba(255,60,60,0.85)';
const COLOR_PRECIP_MEMBER = 'rgba(30,215,30,0.9)';

const xy = (hours: number[], vals: (number | null)[]) => vals.map((v, i) => ({ x: hours[i], y: v }));

function spacedText(ctx: CanvasRenderingContext2D, text: string, x: number, y: number, font: string, color: string, align: CanvasTextAlign, spacing: number) {
  ctx.font = font;
  ctx.fillStyle = color;
  ctx.textAlign = align;
  (ctx as any).letterSpacing = spacing + 'px';
  let dx = 0;
  if (align === 'center') dx = spacing / 2;
  if (align === 'right') dx = spacing;
  ctx.fillText(text, x + dx, y);
  (ctx as any).letterSpacing = '0px';
}

const decorPlugin = {
  id: 'decor',
  afterDatasetsDraw(chart: any) {
    const ctx: CanvasRenderingContext2D = chart.ctx;
    const { left, right, top, bottom } = chart.chartArea;
    ctx.save();
    ctx.strokeStyle = '#000';
    ctx.lineWidth = 3;
    ctx.strokeRect(left, top, right - left, bottom - top);
    ctx.fillStyle = '#fff';
    ctx.fillRect(480, 109, 240, 89);
    ctx.lineWidth = 1.5;
    ctx.strokeRect(480, 109, 240, 89);
    ctx.textBaseline = 'alphabetic';
    const lf = `18px ${FONT}`;
    spacedText(ctx, 'Control', 600, 127.5, lf, COLOR_CONTROL, 'center', 1.2);
    spacedText(ctx, 'Operational', 600, 149, lf, COLOR_OP, 'center', 1.2);
    spacedText(ctx, 'Ensemble Mean', 600, 170.5, lf, COLOR_MEAN, 'center', 1.2);
    spacedText(ctx, 'Climatology (1981-2010)', 600, 192, lf, COLOR_CLIM, 'center', 1.2);
    ctx.restore();
  },
  afterDraw(chart: any) {
    const ctx: CanvasRenderingContext2D = chart.ctx;
    ctx.save();
    ctx.textBaseline = 'alphabetic';
    spacedText(ctx, "Portland Int'l Airport", 600, 30, `33px ${FONT}`, '#000', 'center', 2);
    const hf = `21px ${FONT}`;
    spacedText(ctx, 'ICAO Code: KPDX', 98, 47, hf, '#000', 'left', 1.9);
    spacedText(ctx, 'Coordinates: 45.59, -122.60', 98, 69, hf, '#000', 'left', 1.9);
    spacedText(ctx, 'Oregon, USA', 98, 92, hf, '#000', 'left', 1.9);
    spacedText(ctx, 'Model: 12Z 09DEC2018 GEFS', 1101, 71, hf, '#000', 'right', 1.7);
    spacedText(ctx, 'weathertogether.net', 1101, 97, `bold 22px ${FONT}`, '#0aa0f6', 'right', 2.2);
    ctx.textBaseline = 'middle';
    ctx.save();
    ctx.translate(33, 495);
    ctx.rotate(-Math.PI / 2);
    spacedText(ctx, '850 hPa Temperature (red, \u00B0C)', 0, 0, `30px ${FONT}`, '#000', 'center', 2.2);
    ctx.restore();
    ctx.save();
    ctx.translate(1171, 495);
    ctx.rotate(Math.PI / 2);
    spacedText(ctx, '6-hour Precipitation (green, inches)', 0, 0, `30px ${FONT}`, '#000', 'center', 2);
    ctx.restore();
    ctx.restore();
  },
};

function buildDatasets() {
  const ds: any[] = [];
  const thin = { pointRadius: 0, borderWidth: 0.9, tension: 0, fill: false };
  tempMembers.forEach((m, k) => {
    ds.push({ ...thin, label: 'temp member ' + (k + 1), data: xy(HOURS_6H, m), borderColor: COLOR_TEMP_MEMBER, yAxisID: 'yT', order: 6 });
  });
  precipMembers.forEach((m, k) => {
    ds.push({ ...thin, label: 'precip member ' + (k + 1), data: xy(PRECIP_HOURS, m), borderColor: COLOR_PRECIP_MEMBER, yAxisID: 'yP', order: 5 });
  });
  const thick = { pointRadius: 0, borderWidth: 3.5, tension: 0, fill: false, borderJoinStyle: 'round' };
  ds.push({ ...thick, label: 'Climatology', data: xy(HOURS_6H, climTemp), borderColor: COLOR_CLIM, yAxisID: 'yT', order: 4 });
  ds.push({ ...thick, label: 'Mean precip', data: xy(PRECIP_HOURS, meanPrecip), borderColor: COLOR_MEAN, yAxisID: 'yP', order: 3 });
  ds.push({ ...thick, label: 'Mean temp', data: xy(HOURS_6H, meanTemp), borderColor: COLOR_MEAN, yAxisID: 'yT', order: 3 });
  ds.push({ ...thick, label: 'Control precip', data: xy(PRECIP_HOURS, controlPrecip), borderColor: COLOR_CONTROL, yAxisID: 'yP', order: 2 });
  ds.push({ ...thick, label: 'Control temp', data: xy(HOURS_6H, controlTemp), borderColor: COLOR_CONTROL, yAxisID: 'yT', order: 2 });
  ds.push({ ...thick, label: 'Op precip', data: xy(HOURS_3H, opPrecip), borderColor: COLOR_OP, yAxisID: 'yP', order: 1 });
  ds.push({ ...thick, label: 'Op temp', data: xy(HOURS_3H, opTemp), borderColor: COLOR_OP, yAxisID: 'yT', order: 1 });
  return ds;
}

export default function App() {
  const ref = useRef<HTMLCanvasElement>(null);
  useEffect(() => {
    document.body.style.margin = '0';
    const canvas = ref.current!;
    const chart = new Chart(canvas, {
      type: 'line',
      data: { datasets: buildDatasets() },
      plugins: [decorPlugin],
      options: {
        animation: false,
        responsive: false,
        devicePixelRatio: 1,
        layout: { padding: { top: 110, left: 0, right: 0, bottom: 0 } },
        plugins: { legend: { display: false }, tooltip: { enabled: false }, title: { display: false } },
        font: { family: FONT },
        scales: {
          x: {
            type: 'linear',
            min: 0,
            max: 384,
            afterBuildTicks: (s: any) => { s.ticks = DATE_TICK_HOURS.map((v) => ({ value: v })); },
            afterFit: (s: any) => { s.height = 44; },
            ticks: {
              autoSkip: false,
              maxRotation: 0,
              minRotation: 0,
              padding: 1,
              color: '#000',
              font: { family: FONT, size: 16, lineHeight: 1.05 },
              callback: (v: any) => {
                const i = DATE_TICK_HOURS.indexOf(Number(v));
                return i >= 0 ? DATE_TICK_LABELS[i] : '';
              },
            },
            grid: { drawOnChartArea: false, drawTicks: true, tickLength: 6, tickColor: '#000', tickWidth: 1.5 },
            border: { display: false },
          },
          yT: {
            type: 'linear',
            position: 'left',
            min: -30,
            max: 30,
            afterFit: (s: any) => { s.width = 93; },
            ticks: { stepSize: 5, padding: 5, color: '#000', font: { family: FONT, size: 16 } },
            grid: {
              drawOnChartArea: true,
              drawTicks: true,
              tickLength: 6,
              tickColor: '#000',
              tickWidth: 1.5,
              lineWidth: 1.3,
              color: (c: any) => (c.tick && Math.abs(c.tick.value) >= 30 ? 'rgba(0,0,0,0)' : '#a8a8a8'),
            },
            border: { display: false, dash: [3, 7] },
          },
          yP: {
            type: 'linear',
            position: 'right',
            min: 0,
            max: 2,
            afterFit: (s: any) => { s.width = 95; },
            ticks: {
              stepSize: 0.2,
              padding: 6,
              color: '#000',
              font: { family: FONT, size: 14 },
              callback: (v: any) => String(Number(Number(v).toFixed(1))),
            },
            grid: { drawOnChartArea: false, drawTicks: true, tickLength: 6, tickColor: '#000', tickWidth: 1.5 },
            border: { display: false },
          },
        },
      } as any,
    });
    return () => chart.destroy();
  }, []);
  return (
    <div style={{ position: 'absolute', left: 0, top: 0, width: 1200, height: 927, background: '#fff' }}>
      <canvas ref={ref} width={1200} height={927} style={{ display: 'block', width: 1200, height: 927 }} />
    </div>
  );
}
